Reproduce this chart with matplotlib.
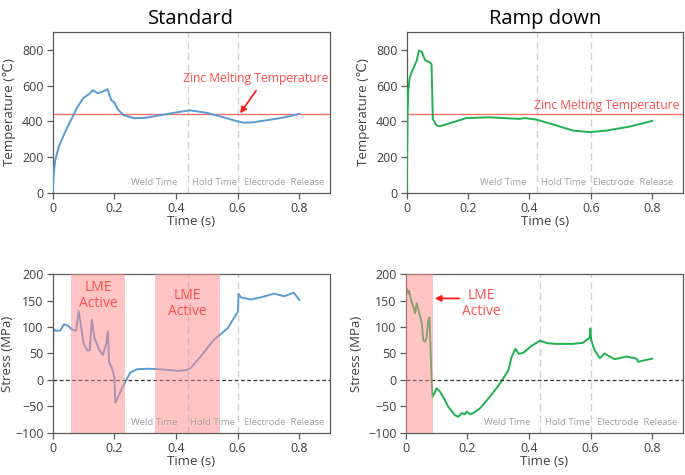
import numpy as np
import matplotlib
matplotlib.use("Agg")
import matplotlib.pyplot as plt

plt.rcParams['font.family'] = ['Open Sans', 'DejaVu Sans']

# temperature, standard schedule
t_temp_std = [0, 0.003, 0.008, 0.02, 0.04, 0.06, 0.08, 0.1, 0.12, 0.13, 0.145, 0.16,
              0.178, 0.19, 0.2, 0.21, 0.23, 0.265, 0.3, 0.35, 0.4, 0.445, 0.5, 0.55,
              0.6, 0.62, 0.65, 0.7, 0.75, 0.8]
temp_std = [0, 100, 180, 260, 340, 410, 480, 532, 555, 575, 558, 565,
            580, 518, 508, 470, 435, 418, 420, 435, 450, 462, 448, 425,
            400, 393, 395, 408, 422, 442]

# temperature, ramp down schedule
t_temp_ramp = [0, 0.003, 0.005, 0.01, 0.016, 0.0325, 0.04, 0.049, 0.06, 0.076, 0.081,
               0.085, 0.0975, 0.108, 0.195, 0.27, 0.368, 0.385, 0.423, 0.488, 0.542,
               0.596, 0.65, 0.726, 0.8]
temp_ramp = [0, 450, 572, 646, 674, 739, 796, 790, 742, 729, 720,
             414, 377, 373, 419, 423, 414, 419, 410, 377, 349,
             340, 349, 371, 403]

# stress, standard schedule
t_stress_std = [0, 0.002, 0.008, 0.024, 0.037, 0.051, 0.062, 0.076, 0.084, 0.089, 0.1,
                0.113, 0.12, 0.127, 0.135, 0.149, 0.163, 0.174, 0.179, 0.183, 0.192,
                0.2, 0.203, 0.208, 0.225, 0.239, 0.252, 0.274, 0.306, 0.35, 0.404,
                0.431, 0.447, 0.48, 0.523, 0.567, 0.601, 0.603, 0.61, 0.643, 0.675,
                0.719, 0.751, 0.782, 0.8]
stress_std = [0, 97, 93, 93, 105, 102, 95, 93, 130, 113, 69,
              55, 56, 114, 81, 59, 47, 69, 92, 34, 22,
              6, -43, -38, -16, 0, 14, 20, 21, 20, 17,
              18, 22, 44, 76, 97, 129, 163, 156, 152, 156,
              163, 158, 165, 151]

# stress, ramp down schedule
t_stress_ramp = [0, 0.001, 0.005, 0.009, 0.011, 0.017, 0.025, 0.03, 0.036, 0.041, 0.046,
                 0.052, 0.057, 0.063, 0.068, 0.073, 0.077, 0.08, 0.084, 0.087, 0.093,
                 0.1, 0.111, 0.127, 0.138, 0.16, 0.171, 0.181, 0.192, 0.198, 0.208,
                 0.219, 0.241, 0.273, 0.306, 0.333, 0.343, 0.356, 0.367, 0.381, 0.408,
                 0.435, 0.462, 0.489, 0.543, 0.575, 0.597, 0.599, 0.602, 0.613, 0.63,
                 0.646, 0.662, 0.678, 0.716, 0.743, 0.751, 0.754, 0.775, 0.8]
stress_ramp = [0, 176, 170, 163, 168, 151, 138, 126, 145, 132, 122,
               107, 75, 72, 81, 113, 118, 69, 0, -32, -26,
               -16, -22, -38, -51, -67, -70, -63, -65, -60, -65,
               -63, -54, -32, -7, 18, 42, 59, 49, 51, 64,
               74, 69, 68, 68, 70, 80, 97, 75, 56, 41,
               50, 44, 39, 44, 41, 39, 34, 37, 40]

phase_names = ['Weld Time', 'Hold Time', 'Electrode  Release']

blue = '#5b9bd5'
green = '#1fb24f'
red = '#ff4d4d'
gray_txt = '#a0a0a0'
spine_c = '#595959'

fig = plt.figure(figsize=(6.85, 4.75), dpi=100)
ax_tl = fig.add_axes([0.0769, 0.5937, 0.405, 0.339])
ax_tr = fig.add_axes([0.5937, 0.5937, 0.4034, 0.339])
ax_bl = fig.add_axes([0.0769, 0.089, 0.405, 0.334])
ax_br = fig.add_axes([0.5923, 0.089, 0.4048, 0.334])


def style(ax):
    for s in ax.spines.values():
        s.set_color(spine_c)
        s.set_linewidth(0.9)
    ax.tick_params(colors=spine_c, labelcolor='#404040', labelsize=9, length=4, width=0.9, pad=2.5)
    ax.set_xlim(0, 0.9)
    ax.set_xticks([0, 0.2, 0.4, 0.6, 0.8])
    ax.set_xticklabels(['0', '0.2', '0.4', '0.6', '0.8'])
    ax.set_xlabel('Time (s)', fontsize=9.5, color='#404040', labelpad=0)


def phases(ax, x1, x2, label_x, label_y):
    for x in (x1, x2):
        ax.axvline(x, color='#d0d0d0', lw=1.0, ls=(0, (5, 3)), zorder=1)
    for name, lx in zip(phase_names, label_x):
        ax.text(lx, label_y, name, color=gray_txt, fontsize=6.8, ha='center', va='center')


# top left
ax = ax_tl
style(ax)
ax.plot(t_temp_std, temp_std, color=blue, lw=1.4, zorder=3)
ax.axhline(440, color='#ff7070', lw=1.0, zorder=2)
ax.set_ylim(0, 900)
ax.set_yticks([0, 200, 400, 600, 800])
ax.set_ylabel('Temperature (℃)', fontsize=9.5, color='#404040')
ax.yaxis.set_label_coords(-0.132, 0.5)
ax.set_title('Standard', fontsize=14.5, pad=6)
phases(ax, 0.44, 0.6, [0.33, 0.526, 0.752], 60)
ax.text(0.66, 640, 'Zinc Melting Temperature', color=red, fontsize=8.7, ha='center', va='center')
ax.annotate('', xy=(0.603, 432), xytext=(0.665, 585),
            arrowprops=dict(arrowstyle='-|>', color='#ff2020', lw=1.3, mutation_scale=9))

# top right
ax = ax_tr
style(ax)
ax.plot(t_temp_ramp, temp_ramp, color=green, lw=1.4, zorder=3)
ax.axhline(440, color='#ff7070', lw=1.0, zorder=2)
ax.set_ylim(0, 900)
ax.set_yticks([0, 200, 400, 600, 800])
ax.set_ylabel('Temperature (℃)', fontsize=9.5, color='#404040')
ax.yaxis.set_label_coords(-0.133, 0.5)
ax.set_title('Ramp down', fontsize=14.5, pad=6)
phases(ax, 0.423, 0.6, [0.314, 0.51, 0.738], 60)
ax.text(0.65, 487, 'Zinc Melting Temperature', color=red, fontsize=8.7, ha='center', va='center')

# bottom left
ax = ax_bl
style(ax)
ax.plot(t_stress_std, stress_std, color=blue, lw=1.4, zorder=2)
ax.axhline(0, color='#303030', lw=0.9, ls=(0, (3, 2)), zorder=2)
ax.axvspan(0.059, 0.235, color='#ff8c8c', alpha=0.5, lw=0, zorder=3)
ax.axvspan(0.333, 0.542, color='#ff8c8c', alpha=0.5, lw=0, zorder=3)
ax.set_ylim(-100, 200)
ax.set_yticks([-100, -50, 0, 50, 100, 150, 200])
ax.set_ylabel('Stress (MPa)', fontsize=9.5, color='#404040')
ax.yaxis.set_label_coords(-0.14, 0.5)
phases(ax, 0.438, 0.6, [0.328, 0.518, 0.75], -80)
ax.text(0.147, 160, 'LME\nActive', color=red, fontsize=10, ha='center', va='center',
        linespacing=1.1, zorder=4)
ax.text(0.436, 144, 'LME\nActive', color=red, fontsize=10, ha='center', va='center',
        linespacing=1.1, zorder=4)

# bottom right
ax = ax_br
style(ax)
ax.plot(t_stress_ramp, stress_ramp, color=green, lw=1.4, zorder=2)
ax.axhline(0, color='#303030', lw=0.9, ls=(0, (3, 2)), zorder=2)
ax.axvspan(0, 0.088, color='#ff8c8c', alpha=0.5, lw=0, zorder=3)
ax.set_ylim(-100, 200)
ax.set_yticks([-100, -50, 0, 50, 100, 150, 200])
ax.set_ylabel('Stress (MPa)', fontsize=9.5, color='#404040')
ax.yaxis.set_label_coords(-0.155, 0.5)
phases(ax, 0.437, 0.6, [0.33, 0.525, 0.752], -80)
ax.text(0.245, 145, 'LME\nActive', color=red, fontsize=10, ha='center', va='center',
        linespacing=1.1, zorder=4)
ax.annotate('', xy=(0.085, 154), xytext=(0.183, 154),
            arrowprops=dict(arrowstyle='-|>', color='#ff2020', lw=1.3, mutation_scale=9))

fig.savefig('out.png', dpi=100)
